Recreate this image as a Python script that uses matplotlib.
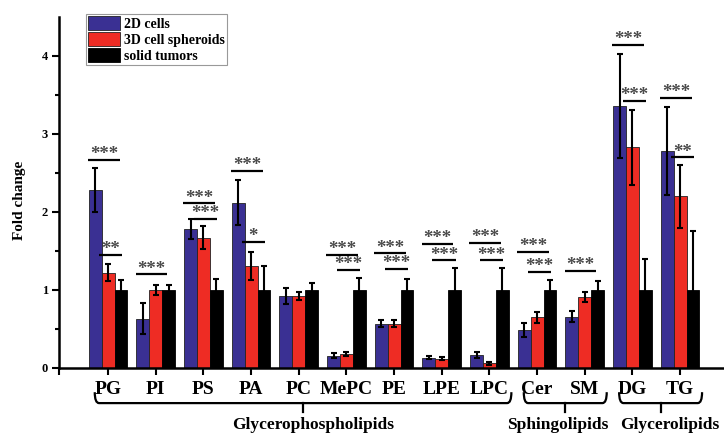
import matplotlib
matplotlib.use("Agg")
import matplotlib.pyplot as plt
import numpy as np
from matplotlib.path import Path
from matplotlib.patches import PathPatch

plt.rcParams['font.family'] = ['Liberation Serif', 'DejaVu Serif']
plt.rcParams['font.weight'] = 'bold'

categories = ['PG', 'PI', 'PS', 'PA', 'PC', 'MePC', 'PE', 'LPE', 'LPC', 'Cer', 'SM', 'DG', 'TG']
cells_2d = [2.28, 0.63, 1.78, 2.12, 0.92, 0.16, 0.57, 0.13, 0.17, 0.49, 0.66, 3.36, 2.78]
err_2d = [0.28, 0.20, 0.13, 0.29, 0.10, 0.03, 0.05, 0.02, 0.04, 0.09, 0.07, 0.67, 0.56]
spheroids_3d = [1.22, 1.00, 1.67, 1.31, 0.92, 0.18, 0.57, 0.12, 0.06, 0.65, 0.91, 2.83, 2.20]
err_3d = [0.11, 0.06, 0.15, 0.18, 0.05, 0.02, 0.05, 0.02, 0.02, 0.07, 0.06, 0.48, 0.40]
tumors = [1.0, 1.0, 1.0, 1.0, 1.0, 1.0, 1.0, 1.0, 1.0, 1.0, 1.0, 1.0, 1.0]
err_tumor = [0.13, 0.07, 0.14, 0.31, 0.09, 0.15, 0.14, 0.28, 0.28, 0.13, 0.12, 0.40, 0.76]

# significance marks: category, span ('wide' = 2D vs tumor, 'narrow' = 3D vs tumor), height, label
sig_cat = [0, 0, 1, 2, 2, 3, 3, 5, 5, 6, 6, 7, 7, 8, 8, 9, 9, 10, 11, 11, 12, 12]
sig_kind = ['wide', 'narrow', 'wide', 'wide', 'narrow', 'wide', 'narrow', 'wide', 'narrow',
            'wide', 'narrow', 'wide', 'narrow', 'wide', 'narrow', 'wide', 'narrow', 'wide',
            'wide', 'narrow', 'wide', 'narrow']
sig_y = [2.67, 1.45, 1.20, 2.11, 1.91, 2.53, 1.62, 1.45, 1.26, 1.47, 1.27, 1.59, 1.38,
         1.60, 1.38, 1.49, 1.23, 1.24, 4.14, 3.42, 3.46, 2.70]
sig_label = ['***', '**', '***', '***', '***', '***', '*', '***', '***', '***', '***', '***', '***',
             '***', '***', '***', '***', '***', '***', '***', '***', '**']

groups = ['Glycerophospholipids', 'Sphingolipids', 'Glycerolipids']
group_first = [0, 9, 11]
group_last = [8, 10, 12]
group_label_x = [4.30, 9.44, 11.79]

fig = plt.figure(figsize=(7.24, 4.34), dpi=100)
ax = fig.add_axes([59 / 724, 66 / 434, 665 / 724, 351 / 434])

x = np.arange(len(categories))
w = 0.27
ekw = dict(elinewidth=1.5, capthick=1.5, ecolor='black')
b1 = ax.bar(x - w, cells_2d, w, yerr=err_2d, color='#3a3093', edgecolor='#222222',
            linewidth=0.6, capsize=2.5, error_kw=ekw, label='2D cells')
b2 = ax.bar(x, spheroids_3d, w, yerr=err_3d, color='#ee2c24', edgecolor='#222222',
            linewidth=0.6, capsize=2.5, error_kw=ekw, label='3D cell spheroids')
b3 = ax.bar(x + w, tumors, w, yerr=err_tumor, color='black', edgecolor='black',
            linewidth=0.6, capsize=2.5, error_kw=ekw, label='solid tumors')

for c, k, y, lab in zip(sig_cat, sig_kind, sig_y, sig_label):
    if k == 'wide':
        x0, x1 = c - 0.42, c + 0.24
    else:
        x0, x1 = c - 0.2, c + 0.29
    ax.plot([x0, x1], [y, y], color='black', lw=1.6, solid_capstyle='butt')
    ax.text((x0 + x1) / 2, y + 0.01, lab, ha='center', va='baseline', fontsize=13.5,
            color='#4a4a4a', fontweight='bold')

# braces below the category labels
for name, f, l, lx in zip(groups, group_first, group_last, group_label_x):
    xa = f - 0.28
    xb = l + 0.46
    xm = (xa + xb) / 2
    top, low, tick = -0.31, -0.45, -0.56
    verts = [(xa, top), (xa, low), (xa + 0.09, low), (xb - 0.09, low), (xb, low), (xb, top)]
    codes = [Path.MOVETO, Path.CURVE3, Path.CURVE3, Path.LINETO, Path.CURVE3, Path.CURVE3]
    ax.add_patch(PathPatch(Path(verts, codes), fill=False, lw=1.6, color='black', clip_on=False))
    ax.plot([xm, xm], [low, tick], color='black', lw=1.6, clip_on=False)
    ax.text(lx, -0.73, name, ha='center', va='center', fontsize=12.5, fontweight='bold',
            clip_on=False)

ax.set_xlim(-1.03, 12.92)
ax.set_ylim(0, 4.5)
ax.set_xticks(x)
ax.set_xticklabels(categories, fontsize=14, fontweight='bold')
ax.set_xticks([-1.03], minor=True)
ax.set_yticks([0, 1, 2, 3, 4])
ax.set_yticklabels(['0', '1', '2', '3', '4'], fontsize=9, fontweight='bold')
ax.set_yticks(np.arange(0.5, 4.5, 1.0), minor=True)
ax.tick_params(axis='both', direction='out', width=1.5, length=5, pad=3)
ax.tick_params(axis='x', pad=4)
ax.tick_params(axis='x', which='minor', direction='out', width=1.5, length=5)
ax.tick_params(axis='y', which='minor', direction='out', width=1.5, length=3)
for s in ['top', 'right']:
    ax.spines[s].set_visible(False)
for s in ['left', 'bottom']:
    ax.spines[s].set_linewidth(1.8)

fig.text(20 / 724, 1 - 200 / 434, 'Fold change', rotation=90, ha='center', va='center',
         fontsize=11, fontweight='bold')

leg = ax.legend(handles=[b1, b2, b3], loc='upper left', bbox_to_anchor=(86 / 724, 1 - 14 / 434),
                bbox_transform=fig.transFigure, fontsize=10, fancybox=False, framealpha=1,
                edgecolor='#999999', handlelength=2.3, handleheight=1.2, labelspacing=0.08,
                handletextpad=0.3, borderpad=0.15, borderaxespad=0)
leg.get_frame().set_linewidth(0.8)
for t in leg.get_texts():
    t.set_fontweight('bold')

fig.savefig('out.png', dpi=100)
